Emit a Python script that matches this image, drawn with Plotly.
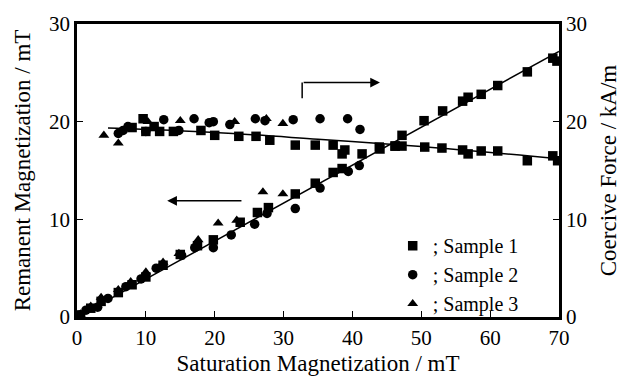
import plotly.graph_objects as go

# ---- data ----
s1_ms_hc = [8, 9.6, 10, 11.2, 12, 14, 18, 20, 23.5, 26, 28, 31.7, 34.6, 37.2, 38.5, 38.9, 43.9, 46.2, 47.2, 50.5, 53, 56, 56.8, 58.7, 61.1, 65.4, 69.1, 69.8]
s1_hc = [19.4, 20.3, 19.0, 19.5, 19.0, 19.0, 19.1, 18.6, 18.5, 18.5, 18.1, 17.6, 17.6, 17.6, 16.7, 17.1, 17.4, 17.5, 17.5, 17.4, 17.3, 17.1, 16.7, 17.0, 17.0, 16.0, 16.5, 16.0]

s2_ms_hc = [6, 6.7, 7.4, 10, 12.6, 14.8, 17, 19.2, 19.8, 22.2, 25.9, 27.3, 31.4, 35.3, 39.3, 41.1]
s2_hc = [18.8, 19.1, 19.5, 19.0, 20.2, 19.1, 20.3, 19.9, 20.0, 19.7, 20.3, 20.1, 20.2, 20.3, 20.3, 19.2]

s3_ms_hc = [3.9, 6.0, 10.3, 15.0, 22.9, 27.5, 29.9]
s3_hc = [18.6, 17.8, 20.0, 20.1, 20.0, 20.3, 19.8]

s1_ms_mr = [0.5, 2, 3.5, 6, 8, 10, 12.5, 15, 17.5, 19.8, 23.7, 26.2, 27.8, 31.7, 34.6, 37.2, 38.5, 41.4, 44, 46.2, 47.2, 50.4, 53.1, 56, 56.8, 58.7, 61.1, 65.4, 69.1, 69.7]
s1_mr = [0.2, 0.9, 1.6, 2.5, 3.3, 4.1, 5.3, 6.4, 7.3, 7.9, 9.7, 10.7, 11.2, 12.6, 13.7, 14.8, 15.2, 16.7, 17.2, 17.5, 18.6, 20.1, 21.1, 22.1, 22.5, 22.8, 23.7, 25.1, 26.5, 26.2]

s2_ms_mr = [0.3, 1.3, 3, 4.5, 7.1, 9.3, 11.5, 15.2, 17.1, 19.8, 22.4, 25.8, 27.6, 31.7, 35.3, 39.4, 41.0]
s2_mr = [0.2, 0.7, 1.0, 1.9, 3.1, 3.9, 5.0, 6.3, 7.1, 7.1, 8.4, 9.5, 10.6, 11.1, 13.2, 14.9, 15.5]

s3_ms_mr = [0.5, 2, 3.5, 6, 7.8, 10, 12.5, 14.8, 17.6, 20.5, 23.2, 27.0, 29.9]
s3_mr = [0.3, 1.1, 2.0, 2.8, 3.6, 4.6, 5.6, 6.5, 7.9, 9.6, 9.9, 12.8, 12.6]

fit_mr_x = [0, 70]
fit_mr_y = [0, 27.2]
fit_hc_x = [4.5, 20, 35, 50, 70]
fit_hc_y = [19.35, 18.9, 18.2, 17.45, 16.2]

x_ticks = [0, 10, 20, 30, 40, 50, 60, 70]
y_ticks = [0, 10, 20, 30]

FONT = "Liberation Serif, Times New Roman, serif"
MS = 9.5
TICK_SIZE = 21
TITLE_SIZE = 23

fig = go.Figure()

# fit lines
fig.add_trace(go.Scatter(x=fit_mr_x, y=fit_mr_y, mode="lines",
                         line=dict(color="black", width=1.5), showlegend=False, hoverinfo="skip"))
fig.add_trace(go.Scatter(x=fit_hc_x, y=fit_hc_y, mode="lines", line_shape="spline",
                         line=dict(color="black", width=1.5), showlegend=False, hoverinfo="skip",
                         yaxis="y2"))

series = [
    ("; Sample 1", "square", s1_ms_mr, s1_mr, s1_ms_hc, s1_hc),
    ("; Sample 2", "circle", s2_ms_mr, s2_mr, s2_ms_hc, s2_hc),
    ("; Sample 3", "triangle-up", s3_ms_mr, s3_mr, s3_ms_hc, s3_hc),
]
for name, sym, xm, ym, xh, yh in series:
    fig.add_trace(go.Scatter(x=xm, y=ym, mode="markers", name=name,
                             marker=dict(symbol=sym, size=MS, color="black"),
                             legendgroup=name))
    fig.add_trace(go.Scatter(x=xh, y=yh, mode="markers", name=name, showlegend=False,
                             marker=dict(symbol=sym, size=MS, color="black"),
                             legendgroup=name, yaxis="y2"))

axis_common = dict(showline=True, linecolor="black", linewidth=2.5, ticks="inside",
                   ticklen=6, tickwidth=1, tickcolor="black", showgrid=False, zeroline=False,
                   tickfont=dict(family=FONT, size=TICK_SIZE, color="black"))

fig.update_layout(
    width=629, height=384,
    margin=dict(l=77, r=70, t=17, b=64),
    paper_bgcolor="white", plot_bgcolor="white",
    font=dict(family=FONT, color="black"),
    xaxis=dict(range=[0, 70], tickvals=x_ticks, mirror=True,
               title=dict(text="Saturation Magnetization / mT", font=dict(family=FONT, size=TITLE_SIZE), standoff=6),
               **axis_common),
    yaxis=dict(range=[0, 30], tickvals=y_ticks, mirror=False,
               title=dict(text="Remanent Magnetization / mT", font=dict(family=FONT, size=TITLE_SIZE), standoff=12),
               **axis_common),
    yaxis2=dict(range=[0, 30], tickvals=y_ticks, overlaying="y", side="right",
                title=dict(text="Coercive Force / kA/m", font=dict(family=FONT, size=TITLE_SIZE), standoff=14),
                **axis_common),
    legend=dict(x=0.655, y=0.31, xanchor="left", yanchor="top", bgcolor="rgba(0,0,0,0)",
                font=dict(family=FONT, size=20, color="black"), itemwidth=30,
                tracegroupgap=0),
    showlegend=True,
)

# arrows
fig.add_shape(type="line", xref="x", yref="y", x0=32.7, y0=22.4, x1=32.7, y1=24.0,
              line=dict(color="black", width=1.5))
fig.add_annotation(x=44.0, y=24.0, ax=32.7, ay=24.0, xref="x", yref="y", axref="x", ayref="y",
                   text="", showarrow=True, arrowhead=2, arrowsize=1.3, arrowwidth=1.5, arrowcolor="black")
fig.add_annotation(x=13.1, y=11.9, ax=24.1, ay=11.9, xref="x", yref="y", axref="x", ayref="y",
                   text="", showarrow=True, arrowhead=2, arrowsize=1.3, arrowwidth=1.5, arrowcolor="black")

fig.write_html("out.html")
